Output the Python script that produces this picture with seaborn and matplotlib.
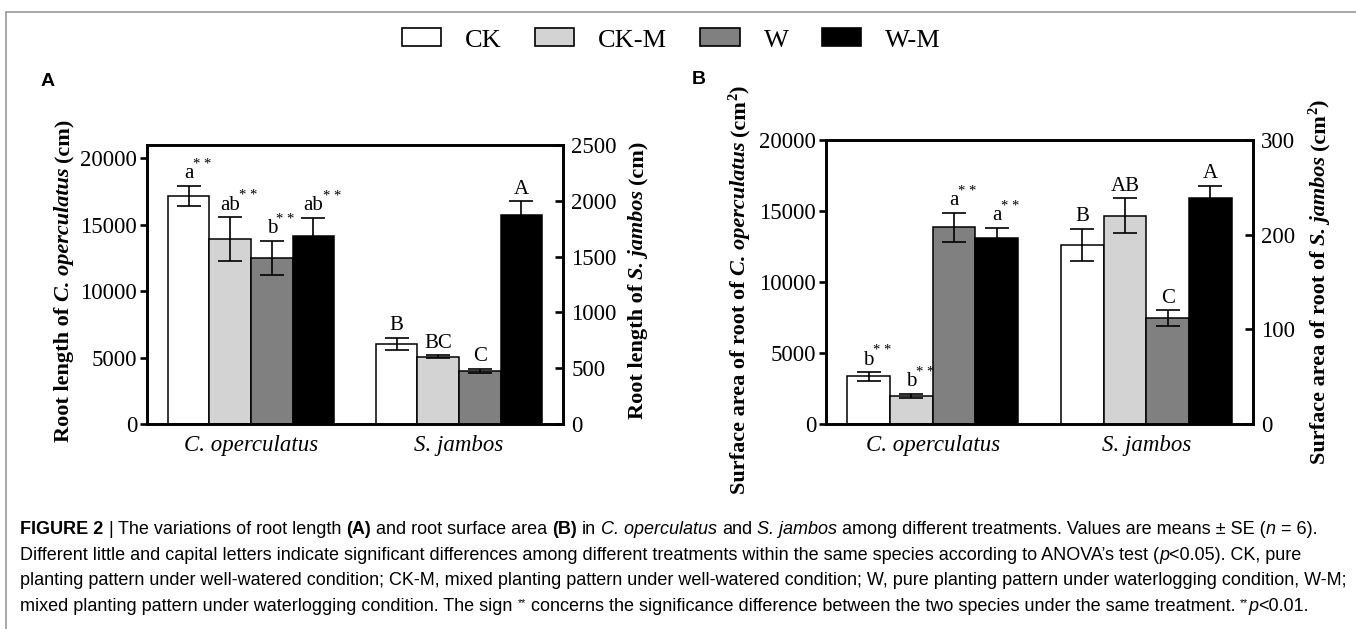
import matplotlib
matplotlib.use("Agg")
import matplotlib.pyplot as plt
from matplotlib import font_manager
from matplotlib.transforms import IdentityTransform
from matplotlib.patches import Patch
from matplotlib.lines import Line2D
import seaborn as sns
import pandas as pd

# ---------------------------------------------------------------- data
species = ["C. operculatus", "S. jambos"]
treatments = ["CK", "CK-M", "W", "W-M"]
bar_colors = ["#ffffff", "#d3d3d3", "#808080", "#000000"]

# (A) root length, cm; C. operculatus on the left axis, S. jambos on the right axis
length_co_mean = [17150, 13900, 12500, 14150]
length_co_se = [760, 1650, 1280, 1350]
length_co_letters = ["a", "ab", "b", "ab"]
length_sj_mean = [715, 603, 475, 1870]
length_sj_se = [55, 12, 18, 125]
length_sj_letters = ["B", "BC", "C", "A"]

# (B) root surface area, cm2
area_co_mean = [3350, 1980, 13850, 13100]
area_co_se = [290, 140, 1000, 720]
area_co_letters = ["b", "b", "a", "a"]
area_sj_mean = [189, 220, 112, 239]
area_sj_se = [17, 18.5, 8, 12.5]
area_sj_letters = ["B", "AB", "C", "A"]

length_left_ticks = [0, 5000, 10000, 15000, 20000]
length_right_ticks = [0, 500, 1000, 1500, 2000, 2500]
area_left_ticks = [0, 5000, 10000, 15000, 20000]
area_right_ticks = [0, 100, 200, 300]

# ---------------------------------------------------------------- style
W_PX, H_PX = 1356, 629
sns.set_style("ticks")
SERIF = ["Liberation Serif", "DejaVu Serif"]
SANS = ["Liberation Sans", "DejaVu Sans"]
installed = {f.name for f in font_manager.fontManager.ttflist}
CAPTION = (["Liberation Sans Narrow", "Liberation Sans", "DejaVu Sans"]
           if "Liberation Sans Narrow" in installed else SANS)
plt.rcParams.update({
    "font.family": SERIF,
    "axes.edgecolor": "black",
    "xtick.color": "black",
    "ytick.color": "black",
    "text.color": "black",
    "axes.labelcolor": "black",
})

fig = plt.figure(figsize=(W_PX / 100, H_PX / 100), dpi=100)
renderer = fig.canvas.get_renderer()
PIX = IdentityTransform()


def text_width(s, size, weight, style, family):
    t = fig.text(0, 0, s, fontsize=size, fontweight=weight, fontstyle=style,
                 family=family, transform=PIX)
    w = t.get_window_extent(renderer).width
    t.remove()
    return w


def rich(runs, x, y, size, family, rotation=0, align="left"):
    """Draw text runs of mixed weight/style one after another.
    x, y are pixel positions measured from the top-left corner; for
    rotated text (x, y) is the baseline position of the middle."""
    pieces = []
    for txt, weight, style, scale, rise in runs:
        fs = size * scale
        core = txt.strip(" ")
        lead = len(txt) - len(txt.lstrip(" "))
        trail = len(txt) - len(txt.rstrip(" "))
        sp = text_width("a a", fs, weight, style, family) - text_width("aa", fs, weight, style, family)
        w = text_width(core, fs, weight, style, family)
        pieces.append((core, weight, style, fs, rise, lead * sp, w, trail * sp))
    total = sum(p[5] + p[6] + p[7] for p in pieces)
    if rotation == 0:
        pos = x - total / 2 if align == "center" else x
        base = H_PX - y
        for core, weight, style, fs, rise, lead, w, trail in pieces:
            pos += lead
            fig.text(pos, base + rise, core, transform=PIX, ha="left", va="baseline",
                     fontsize=fs, fontweight=weight, fontstyle=style, family=family)
            pos += w + trail
    else:
        pos = (H_PX - y) - total / 2
        for core, weight, style, fs, rise, lead, w, trail in pieces:
            pos += lead
            fig.text(x - rise, pos, core, transform=PIX, rotation=90,
                     rotation_mode="anchor", ha="left", va="baseline",
                     fontsize=fs, fontweight=weight, fontstyle=style, family=family)
            pos += w + trail


def rect_px(left, top, right, bottom):
    return [left / W_PX, 1 - bottom / H_PX, (right - left) / W_PX, (bottom - top) / H_PX]


palette = dict(zip(treatments, bar_colors))


def draw_panel(rect, left_set, right_set, left_lim, left_ticks, right_lim, right_ticks):
    ax = fig.add_axes(rect)
    ax2 = ax.twinx()
    for axis, sp, (vals, errs, labs), stars in ((ax, species[0], left_set, True),
                                                (ax2, species[1], right_set, False)):
        df = pd.DataFrame({"species": sp, "treatment": treatments, "value": vals})
        sns.barplot(data=df, x="species", y="value", hue="treatment", order=species,
                    hue_order=treatments, palette=palette, saturation=1, width=0.8,
                    edgecolor="black", linewidth=1.1, errorbar=None, legend=False,
                    ax=axis, zorder=2)
        bars = sorted(axis.patches, key=lambda p: p.get_x())
        xs = [p.get_x() + p.get_width() / 2 for p in bars]
        axis.errorbar(xs, vals, yerr=errs, fmt="none", ecolor="black", elinewidth=1.2,
                      capsize=8.5, capthick=1.2, zorder=3)
        for xc, v, e, lab in zip(xs, vals, errs, labs):
            t = axis.annotate(lab, xy=(xc, v + e), xytext=(0, 5.5), textcoords="offset points",
                              ha="center", va="baseline", fontsize=15, family=SERIF)
            if stars:
                axis.annotate("* *", xy=(1, 0), xycoords=t, xytext=(-0.5, 11),
                              textcoords="offset points", ha="left", va="baseline",
                              fontsize=10.5, family=SERIF)
        axis.set_xlabel("")
        axis.set_ylabel("")
        for s in axis.spines.values():
            s.set_linewidth(1.9)
            s.set_color("black")
    ax.set_ylim(*left_lim)
    ax.set_yticks(left_ticks)
    ax2.set_ylim(*right_lim)
    ax2.set_yticks(right_ticks)
    ax.set_xlim(-0.5, 1.5)
    ax.tick_params(axis="y", direction="out", length=5, width=1.9, labelsize=16.5, pad=2)
    ax2.tick_params(axis="y", direction="in", length=6, width=1.9, labelsize=16.5, pad=6)
    ax.tick_params(axis="x", direction="in", length=4, width=1.5, labelsize=16.5, pad=8)
    for lab in ax.get_xticklabels():
        lab.set_fontstyle("italic")
    return ax, ax2


# ---------------------------------------------------------------- panel A
draw_panel(rect_px(147, 145, 563, 424),
           (length_co_mean, length_co_se, length_co_letters),
           (length_sj_mean, length_sj_se, length_sj_letters),
           (0, 21000), length_left_ticks, (0, 2500), length_right_ticks)

# ---------------------------------------------------------------- panel B
draw_panel(rect_px(826, 140, 1253, 424),
           (area_co_mean, area_co_se, area_co_letters),
           (area_sj_mean, area_sj_se, area_sj_letters),
           (0, 20000), area_left_ticks, (0, 300), area_right_ticks)

# axis titles with italic species names
B, N, I = "bold", "normal", "italic"
LBL = 16
rich([("Root length of ", B, N, 1, 0), ("C. operculatus", B, I, 1, 0), (" (cm)", B, N, 1, 0)],
     69, 280, LBL, SERIF, rotation=90)
rich([("Root length of ", B, N, 1, 0), ("S. jambos", B, I, 1, 0), (" (cm)", B, N, 1, 0)],
     643, 280, LBL, SERIF, rotation=90)
rich([("Surface area of root of ", B, N, 1, 0), ("C. operculatus", B, I, 1, 0),
      (" (cm", B, N, 1, 0), ("2", B, N, 0.65, 8), (")", B, N, 1, 0)],
     745, 290, LBL, SERIF, rotation=90)
rich([("Surface area of root of ", B, N, 1, 0), ("S. jambos", B, I, 1, 0),
      (" (cm", B, N, 1, 0), ("2", B, N, 0.65, 8), (")", B, N, 1, 0)],
     1325, 282, LBL, SERIF, rotation=90)

# panel letters
fig.text(48 / W_PX, 1 - 82 / H_PX, "A", fontsize=14, fontweight="bold", family=SANS,
         ha="center", va="center")
fig.text(699 / W_PX, 1 - 80 / H_PX, "B", fontsize=14, fontweight="bold", family=SANS,
         ha="center", va="center")

# shared legend
handles = [Patch(facecolor=c, edgecolor="black", linewidth=1.2, label=t)
           for t, c in zip(treatments, bar_colors)]
fig.legend(handles=handles, loc="center", bbox_to_anchor=(0.495, 1 - 40 / H_PX), ncol=4,
           frameon=False, prop={"family": SERIF, "size": 19}, handlelength=1.5,
           handleheight=0.65, handletextpad=0.9, columnspacing=1.25)

# frame lines
fig.add_artist(Line2D([6 / W_PX, 1], [1 - 12 / H_PX] * 2, color="#9a9a9a", lw=1.2))
fig.add_artist(Line2D([6 / W_PX] * 2, [0, 1 - 12 / H_PX], color="#9a9a9a", lw=1.2))

# caption
CAP = 13
cap_lines = [
    [("FIGURE 2", B, N, 1, 0), (" | ", N, N, 1, 0), ("The variations of root length ", N, N, 1, 0),
     ("(A)", B, N, 1, 0), (" and root surface area ", N, N, 1, 0), ("(B)", B, N, 1, 0),
     (" in ", N, N, 1, 0), ("C. operculatus", N, I, 1, 0), (" and ", N, N, 1, 0),
     ("S. jambos", N, I, 1, 0),
     (" among different treatments. Values are means \u00b1 SE (", N, N, 1, 0),
     ("n", N, I, 1, 0), (" = 6).", N, N, 1, 0)],
    [("Different little and capital letters indicate significant differences among different "
      "treatments within the same species according to ANOVA\u2019s test (", N, N, 1, 0),
     ("p", N, I, 1, 0), ("<0.05). CK, pure", N, N, 1, 0)],
    [("planting pattern under well-watered condition; CK-M, mixed planting pattern under "
      "well-watered condition; W, pure planting pattern under waterlogging condition, W-M;",
      N, N, 1, 0)],
    [("mixed planting pattern under waterlogging condition. The sign ", N, N, 1, 0),
     ("**", N, N, 0.6, 5),
     (" concerns the significance difference between the two species under the same "
      "treatment. ", N, N, 1, 0),
     ("**", N, N, 0.6, 5), ("p", N, I, 1, 0), ("<0.01.", N, N, 1, 0)],
]
for i, line in enumerate(cap_lines):
    rich(line, 20, 534 + 25.7 * i, CAP, CAPTION)

fig.savefig("out.png", dpi=100)
